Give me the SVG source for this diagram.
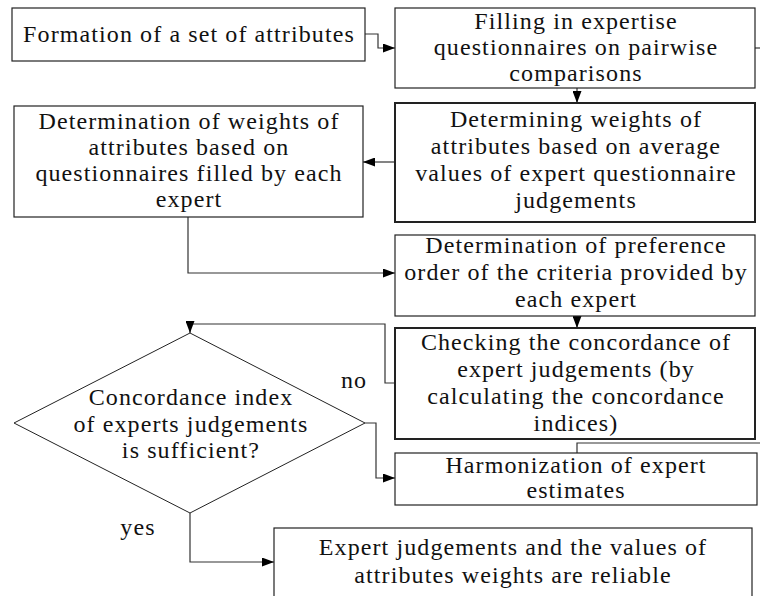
<svg xmlns="http://www.w3.org/2000/svg" width="760" height="596" viewBox="0 0 760 596">
<style>
  .box { fill: #fff; stroke: #222; stroke-width: 1.2; }
  .thick { stroke-width: 2; }
  .dia { fill: #fff; stroke: #222; stroke-width: 1; }
  text { font-family: "Liberation Serif", "Times New Roman", serif; font-size: 24px; letter-spacing: 1.1px; fill: #111; text-anchor: middle; }
  .conn { fill: none; stroke: #333; stroke-width: 1.2; }
</style>
<defs>
  <marker id="arr" markerWidth="12" markerHeight="9" refX="12" refY="4.5" orient="auto" markerUnits="userSpaceOnUse">
    <path d="M0,0 L12,4.5 L0,9 Z" fill="#000"/>
  </marker>
</defs>
<rect width="760" height="596" fill="#fff"/>

<g id="connectors">
  <path class="conn" d="M365,34 H378 V48 H395" marker-end="url(#arr)"/>
  <path class="conn" d="M577,88 V103" marker-end="url(#arr)"/>
  <path class="conn" d="M395,162 H363" marker-end="url(#arr)"/>
  <path class="conn" d="M188,217 V273 H395" marker-end="url(#arr)"/>
  <path class="conn" d="M577,316 V328" marker-end="url(#arr)"/>
  <path class="conn" d="M395,383 H385 V324 H190 V333" marker-end="url(#arr)"/>
  <path class="conn" d="M365,423 H376 V478 H395" marker-end="url(#arr)"/>
  <path class="conn" d="M577,453 V443 H760"/>
  <path class="conn" d="M755,48 H760"/>
  <path class="conn" d="M190,513 V562 H274" marker-end="url(#arr)"/>
</g>

<g id="n1">
  <rect class="box" x="12" y="8" width="353" height="53"/>
  <text x="189" y="42">Formation of a set of attributes</text>
</g>

<g id="n2">
  <rect class="box" x="395" y="8" width="360" height="80"/>
  <text x="576" y="29">Filling in expertise</text>
  <text x="576" y="55">questionnaires on pairwise</text>
  <text x="576" y="81">comparisons</text>
</g>

<g id="n3">
  <rect class="box thick" x="395" y="103" width="360" height="119"/>
  <text x="576" y="127">Determining weights of</text>
  <text x="576" y="154">attributes based on average</text>
  <text x="576" y="181">values of expert questionnaire</text>
  <text x="576" y="208">judgements</text>
</g>

<g id="n4">
  <rect class="box" x="14" y="106" width="349" height="111"/>
  <text x="189" y="129">Determination of weights of</text>
  <text x="189" y="155">attributes based on</text>
  <text x="189" y="181">questionnaires filled by each</text>
  <text x="189" y="207">expert</text>
</g>

<g id="n5">
  <rect class="box" x="395" y="235" width="360" height="81"/>
  <text x="576" y="253">Determination of preference</text>
  <text x="576" y="280">order of the criteria provided by</text>
  <text x="576" y="307">each expert</text>
</g>

<g id="n6">
  <rect class="box thick" x="395" y="328" width="360" height="111"/>
  <text x="576" y="350">Checking the concordance of</text>
  <text x="576" y="377">expert judgements (by</text>
  <text x="576" y="404">calculating the concordance</text>
  <text x="576" y="431">indices)</text>
</g>

<g id="n7">
  <polygon class="dia" points="190,333 365,423 190,513 14,423"/>
  <text x="191" y="405">Concordance index</text>
  <text x="191" y="432">of experts judgements</text>
  <text x="191" y="458">is sufficient?</text>
</g>

<g id="n8">
  <rect class="box" x="395" y="453" width="362" height="52"/>
  <text x="576" y="473">Harmonization of expert</text>
  <text x="576" y="498">estimates</text>
</g>

<g id="n9">
  <rect class="box" x="274" y="528" width="478" height="92"/>
  <text x="513" y="555">Expert judgements and the values of</text>
  <text x="513" y="583">attributes weights are reliable</text>
</g>

<g id="labels">
  <text x="354" y="388">no</text>
  <text x="138" y="535">yes</text>
</g>
</svg>
